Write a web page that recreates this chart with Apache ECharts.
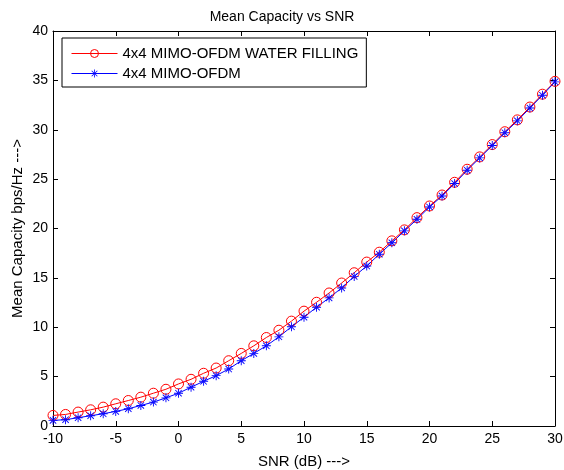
<!DOCTYPE html>
<html>
<head>
<meta charset="utf-8">
<script src="https://cdn.jsdelivr.net/npm/echarts@6/dist/echarts.min.js"></script>
<style>
html,body{margin:0;padding:0;background:#fff;}
#main{width:564px;height:470px;}
</style>
</head>
<body>
<div id="main"></div>
<script>
// SNR in dB
var snr = [-10,-9,-8,-7,-6,-5,-4,-3,-2,-1,0,1,2,3,4,5,6,7,8,9,10,11,12,13,14,15,16,17,18,19,20,21,22,23,24,25,26,27,28,29,30];
// water filling
var capWF = [1.07,1.17,1.41,1.64,1.91,2.25,2.58,2.92,3.32,3.72,4.26,4.73,5.34,5.87,6.61,7.35,8.12,8.96,9.70,10.62,11.63,12.53,13.47,14.48,15.52,16.6,17.6,18.75,19.86,21.1,22.28,23.39,24.68,26.0,27.25,28.5,29.8,31.0,32.3,33.6,34.9];
// plain mimo-ofdm
var capMO = [0.57,0.64,0.84,1.04,1.24,1.48,1.75,2.08,2.42,2.85,3.32,3.93,4.53,5.10,5.77,6.61,7.35,8.12,9.03,10.05,11.02,12.03,12.97,13.98,15.15,16.2,17.4,18.55,19.76,20.93,22.18,23.29,24.55,25.9,27.15,28.4,29.7,30.9,32.2,33.5,34.85];
var seriesNames = ['4x4 MIMO-OFDM WATER FILLING','4x4 MIMO-OFDM'];
var seriesColors = ['#ff0000','#0000ff'];

var font = 'Liberation Sans, Arial, sans-serif';
var star = 'path://M4.5,0L5.5,0L5.5,10L4.5,10Z M0,4.5L10,4.5L10,5.5L0,5.5Z M1.1,1.8L1.8,1.1L8.9,8.2L8.2,8.9Z M8.9,1.8L8.2,1.1L1.1,8.2L1.8,8.9Z';

function pairs(xs, ys){
	var out = [];
	for(var i=0;i<xs.length;i++){
		out.push([xs[i], ys[i]]);
	}
	return out;
}

var axisCommon = {
	axisLine:{show:true, onZero:false, lineStyle:{color:'#000', width:1}},
	axisTick:{show:true, inside:true, length:5, lineStyle:{color:'#000'}},
	splitLine:{show:false}
};

function $extend(o){
	for(var k in axisCommon){
		if(o[k]===undefined) o[k] = axisCommon[k];
	}
	return o;
}

var myChart = echarts.init(document.getElementById('main'));

var option = {
	backgroundColor:'#fff',
	animation:false,
	title:{
		text:'Mean Capacity vs SNR',
		left:'center',
		top:5,
		textStyle:{fontFamily:font, fontSize:14, fontWeight:'normal', color:'#000'}
	},
	legend:{
		data:[
			{name:seriesNames[0], lineStyle:{color:seriesColors[0], width:1}, itemStyle:{color:'rgba(0,0,0,0)', borderColor:seriesColors[0], borderWidth:1}},
			{name:seriesNames[1], lineStyle:{color:seriesColors[1], width:1}, itemStyle:{color:seriesColors[1]}}
		],
		orient:'vertical',
		left:62,
		top:38,
		itemWidth:46,
		itemHeight:10,
		itemGap:5,
		padding:[8,8,6,9],
		borderColor:'#000',
		borderWidth:1,
		backgroundColor:'#fff',
		textStyle:{fontFamily:font, fontSize:15, color:'#000'}
	},
	grid:{left:53, right:9, top:31, bottom:44, outerBoundsMode:'none', containLabel:false},
	xAxis:[
		$extend({
			type:'value', min:-10, max:30, interval:5, position:'bottom',
			name:'SNR (dB) --->', nameLocation:'middle', nameGap:28,
			nameTextStyle:{fontFamily:font, fontSize:15, color:'#000'},
			axisLabel:{fontFamily:font, fontSize:14, color:'#000', margin:6}
		}),
		$extend({
			type:'value', min:-10, max:30, interval:5, position:'top',
			axisLabel:{show:false}
		})
	],
	yAxis:[
		$extend({
			type:'value', min:0, max:40, interval:5, position:'left',
			name:'Mean Capacity bps/Hz --->', nameLocation:'middle', nameGap:28,
			nameMoveOverlap:false,
			nameTextStyle:{fontFamily:font, fontSize:15, color:'#000'},
			axisLabel:{fontFamily:font, fontSize:14, color:'#000', margin:5}
		}),
		$extend({
			type:'value', min:0, max:40, interval:5, position:'right',
			axisLabel:{show:false}
		})
	],
	series:[
		{
			name:seriesNames[0],
			type:'line',
			data:pairs(snr, capWF),
			symbol:'circle',
			symbolSize:10,
			showAllSymbol:true,
			lineStyle:{color:seriesColors[0], width:1},
			itemStyle:{color:'rgba(0,0,0,0)', borderColor:seriesColors[0], borderWidth:1}
		},
		{
			name:seriesNames[1],
			type:'line',
			data:pairs(snr, capMO),
			symbol:star,
			symbolSize:9,
			showAllSymbol:true,
			lineStyle:{color:seriesColors[1], width:1},
			itemStyle:{color:seriesColors[1]}
		}
	]
};

myChart.setOption(option);
</script>
</body>
</html>
